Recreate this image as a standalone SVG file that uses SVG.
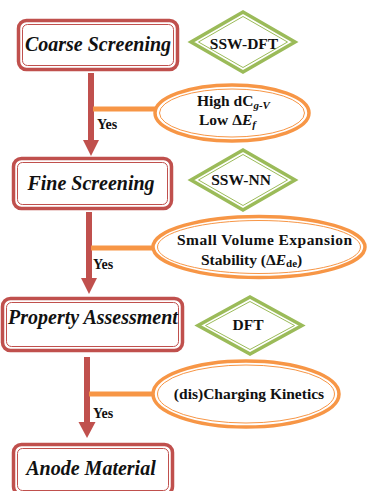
<svg xmlns="http://www.w3.org/2000/svg" width="368" height="491" viewBox="0 0 368 491">
<style>
.bo{fill:#fff;stroke:#c0504d;stroke-width:3.5}
.bi{fill:none;stroke:#c0504d;stroke-width:1}
.do{fill:#fff;stroke:#9bbb59;stroke-width:3.5}
.di{fill:none;stroke:#9bbb59;stroke-width:1}
.eo{fill:#fff;stroke:#f79646;stroke-width:3.5}
.ei{fill:none;stroke:#f79646;stroke-width:1}
text{font-family:'Liberation Serif','Times New Roman',Times,'DejaVu Serif',serif;font-weight:bold;fill:#111}
.bt{font-style:italic;font-size:20px;text-anchor:middle}
.t{font-size:15.5px}
.y{font-size:14px}
.sh{fill:#c0504d}
.ol{stroke:#f79646;stroke-width:5}
</style>
<rect width="368" height="491" fill="#fff"/>
<g id="connectors">
  <rect class="sh" x="88" y="73" width="6" height="68"/>
  <polygon class="sh" points="83,140 99,140 91,156"/>
  <line class="ol" x1="93" y1="109" x2="156" y2="109"/>
  <rect class="sh" x="86" y="212" width="6" height="67"/>
  <polygon class="sh" points="81,278 97,278 89,294"/>
  <line class="ol" x1="91" y1="248" x2="153" y2="248"/>
  <rect class="sh" x="84" y="357" width="6" height="66"/>
  <polygon class="sh" points="78.5,422 95.5,422 87,438"/>
  <line class="ol" x1="89" y1="394" x2="154" y2="394"/>
  <text class="y" x="97" y="129">Yes</text>
  <text class="y" x="93" y="269">Yes</text>
  <text class="y" x="93" y="418">Yes</text>
</g>
<g id="coarse">
  <rect class="bo" x="18.5" y="20.5" width="159" height="49" rx="8"/>
  <rect class="bi" x="22.5" y="24.5" width="151" height="41" rx="5"/>
  <text class="bt" x="98" y="51">Coarse Screening</text>
</g>
<g id="fine">
  <rect class="bo" x="13.5" y="158.5" width="158" height="50" rx="8"/>
  <rect class="bi" x="17.5" y="162.5" width="150" height="42" rx="5"/>
  <text class="bt" x="91" y="190">Fine Screening</text>
</g>
<g id="property">
  <rect class="bo" x="2.5" y="298.5" width="180" height="52" rx="8"/>
  <rect class="bi" x="6.5" y="302.5" width="172" height="44" rx="5"/>
  <text class="bt" x="93" y="324">Property Assessment</text>
</g>
<g id="anode">
  <rect class="bo" x="13.5" y="444.5" width="159" height="50" rx="8"/>
  <rect class="bi" x="17.5" y="448.5" width="151" height="42" rx="5"/>
  <text class="bt" x="91" y="475">Anode Material</text>
</g>
<g id="ssw-dft">
  <polygon class="do" points="243,12 295,42 243,72 191,42"/>
  <polygon class="di" points="243,16.5 287.5,42 243,67.5 198.5,42"/>
  <text class="t" x="244" y="49" text-anchor="middle">SSW-DFT</text>
</g>
<g id="ssw-nn">
  <polygon class="do" points="243,150 295,180 243,210 191,180"/>
  <polygon class="di" points="243,154.5 287.5,180 243,205.5 198.5,180"/>
  <text class="t" x="241" y="185" text-anchor="middle">SSW-NN</text>
</g>
<g id="dft">
  <polygon class="do" points="250,297 302,325.5 250,354 198,325.5"/>
  <polygon class="di" points="250,301.5 294.5,325.5 250,349.5 205.5,325.5"/>
  <text class="t" x="248" y="330" text-anchor="middle">DFT</text>
</g>
<g id="criteria1">
  <ellipse class="eo" cx="232" cy="113" rx="77" ry="28"/>
  <ellipse class="ei" cx="232" cy="113" rx="72.5" ry="24"/>
  <text class="t" x="197" y="106">High dC<tspan font-style="italic" font-size="11" dy="3">g-V</tspan></text>
  <text class="t" x="199" y="125">Low Δ<tspan font-style="italic">E</tspan><tspan font-style="italic" font-size="11" dy="3">f</tspan></text>
</g>
<g id="criteria2">
  <ellipse class="eo" cx="259" cy="247" rx="106" ry="30.5"/>
  <ellipse class="ei" cx="259" cy="247" rx="101.5" ry="26.5"/>
  <text class="t" x="177" y="245" textLength="175" font-size="16">Small Volume Expansion</text>
  <text class="t" x="201" y="265" font-size="16">Stability (Δ<tspan font-style="italic">E</tspan><tspan font-size="11" dy="2">de</tspan><tspan dy="-2">)</tspan></text>
</g>
<g id="criteria3">
  <ellipse class="eo" cx="246" cy="394" rx="93" ry="33"/>
  <ellipse class="ei" cx="246" cy="394" rx="88.5" ry="29"/>
  <text class="t" x="249" y="399" text-anchor="middle" font-size="16.5">(dis)Charging Kinetics</text>
</g>
</svg>
